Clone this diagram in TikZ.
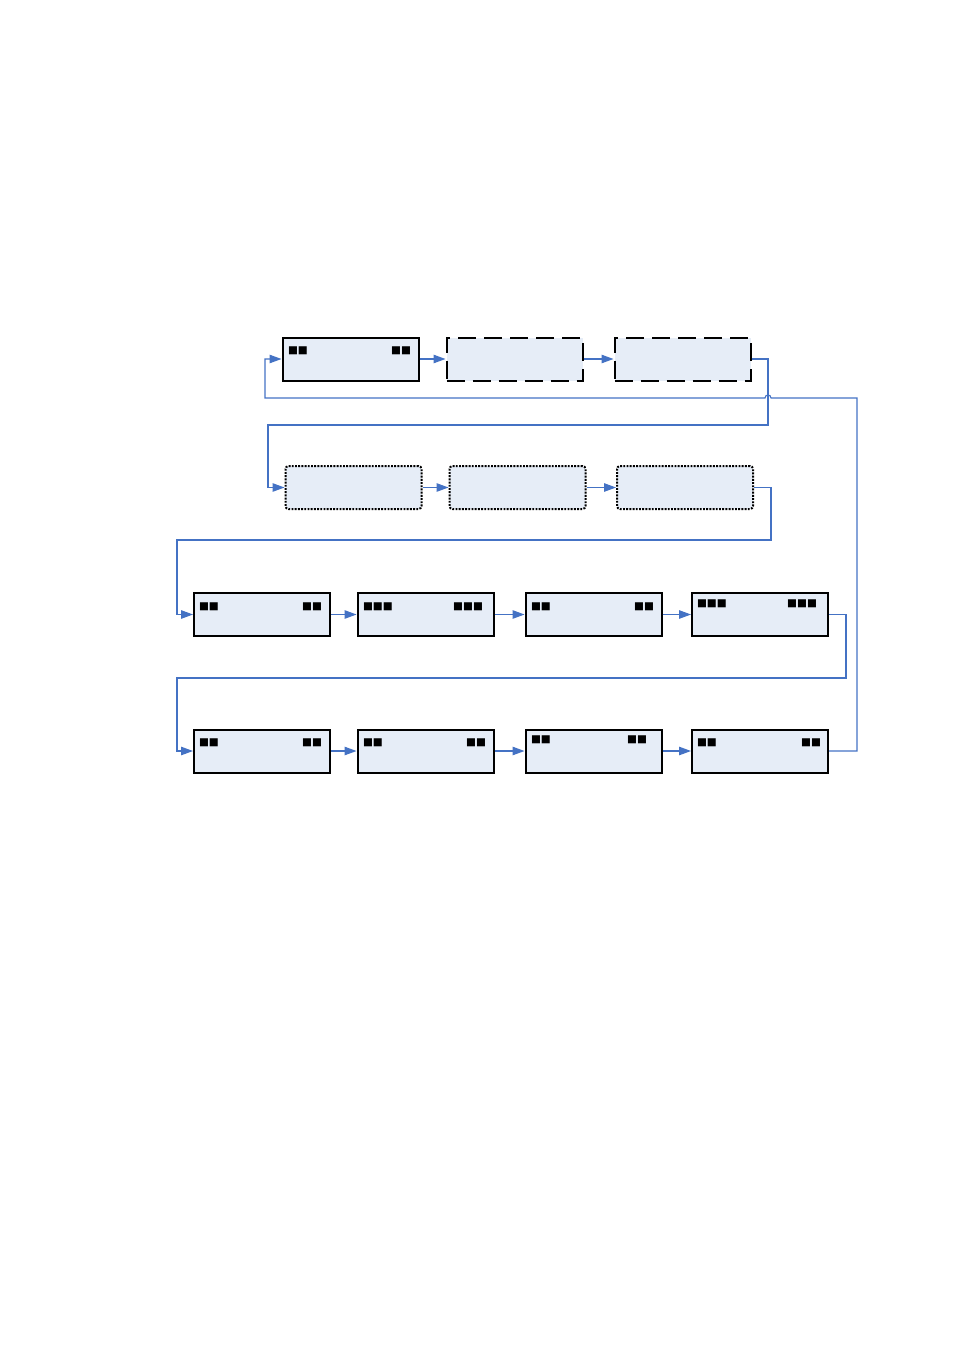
\documentclass[tikz,border=0pt]{standalone}
\usepackage{fontspec}
\newfontfamily\symfont{DejaVu Sans}
\usetikzlibrary{arrows.meta}
\definecolor{connblue}{RGB}{68,114,196}
\definecolor{boxfill}{RGB}{230,237,247}
\begin{document}
\begin{tikzpicture}[x=1pt,y=-1pt,
  box/.style={draw=black, fill=boxfill, minimum width=136pt, minimum height=43pt, inner sep=0pt, line width=2pt},
  dashbox/.style={box, dash pattern=on 18pt off 8pt},
  dotbox/.style={box, line width=2pt, dash pattern=on 1.9pt off 1.3pt, rounded corners=3pt},
  conn/.style={draw=connblue, line width=1.1pt},
  arr/.style={conn, -{Triangle[length=12pt,width=8.5pt]}},
  sq/.style={font=\symfont\fontsize{10.5}{10.5}\selectfont, inner sep=0pt, outer sep=0pt}
]
\useasboundingbox (0,0) rectangle (954,1351);
% row 1
\node[box]     (a1) at (350.5,359) {};
\node[dashbox] (a2) at (514.5,359) {};
\node[dashbox] (a3) at (682.5,359) {};
% row 2
\node[dotbox] (b1) at (353.5,487.5) {};
\node[dotbox] (b2) at (517.5,487.5) {};
\node[dotbox] (b3) at (685,487.5) {};
% row 3
\node[box] (c1) at (262,614.5) {};
\node[box] (c2) at (425.5,614.5) {};
\node[box] (c3) at (593.5,614.5) {};
\node[box] (c4) at (760,614.5) {};
% row 4
\node[box] (d1) at (262,751) {};
\node[box] (d2) at (425.5,751) {};
\node[box] (d3) at (593.5,751) {};
\node[box] (d4) at (760,751) {};
% labels
\node[sq,anchor=north west] (a1l) at (288,347) {■■};
\node[sq,anchor=north east] (a1r) at (411,347) {■■};
\node[sq,anchor=north west] (c1l) at (199,603) {■■};
\node[sq,anchor=north east] (c1r) at (322,603) {■■};
\node[sq,anchor=north west] (c2l) at (363,603) {■■■};
\node[sq,anchor=north east] (c2r) at (483,603) {■■■};
\node[sq,anchor=north west] (c3l) at (531,603) {■■};
\node[sq,anchor=north east] (c3r) at (654,603) {■■};
\node[sq,anchor=north west] (c4l) at (697,600) {■■■};
\node[sq,anchor=north east] (c4r) at (817,600) {■■■};
\node[sq,anchor=north west] (d1l) at (199,739) {■■};
\node[sq,anchor=north east] (d1r) at (322,739) {■■};
\node[sq,anchor=north west] (d2l) at (363,739) {■■};
\node[sq,anchor=north east] (d2r) at (486,739) {■■};
\node[sq,anchor=north west] (d3l) at (531,736) {■■};
\node[sq,anchor=north east] (d3r) at (647,736) {■■};
\node[sq,anchor=north west] (d4l) at (697,739) {■■};
\node[sq,anchor=north east] (d4r) at (821,739) {■■};
% connectors
\draw[arr] (a1.east) -- (a2.west);
\draw[arr] (a2.east) -- (a3.west);
\draw[arr] (b1.east) -- (b2.west);
\draw[arr] (b2.east) -- (b3.west);
\draw[arr] (c1.east) -- (c2.west);
\draw[arr] (c2.east) -- (c3.west);
\draw[arr] (c3.east) -- (c4.west);
\draw[arr] (d1.east) -- (d2.west);
\draw[arr] (d2.east) -- (d3.west);
\draw[arr] (d3.east) -- (d4.west);
\draw[arr] (a3.east) -- (768,359) -- (768,425) -- (268,425) |- (b1.west);
\draw[arr] (b3.east) -- (771,487.5) -- (771,540) -- (177,540) |- (c1.west);
\draw[arr] (c4.east) -- (846,614.5) -- (846,678) -- (177,678) |- (d1.west);
\draw[arr] (d4.east) -- (857,751) -- (857,398) -- (771,398)
  .. controls (771,394) and (765,394) .. (765,398) -- (265,398) |- (a1.west);
\end{tikzpicture}
\end{document}
